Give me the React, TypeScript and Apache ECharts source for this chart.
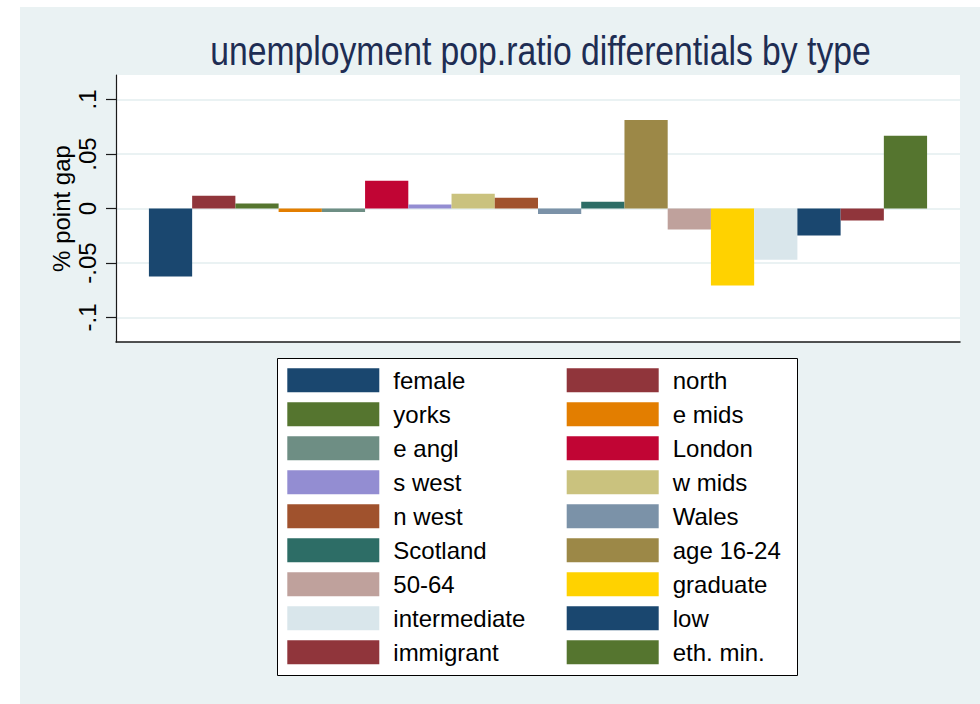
import React, { useEffect, useRef } from "react";
import * as echarts from "echarts";

const titleText = "unemployment pop.ratio differentials by type";
const yAxisName = "% point gap";

const seriesNames = [
  "female", "north", "yorks", "e mids", "e angl", "London",
  "s west", "w mids", "n west", "Wales", "Scotland", "age 16-24",
  "50-64", "graduate", "intermediate", "low", "immigrant", "eth. min.",
];

const seriesValues = [
  -0.0624, 0.0116, 0.0046, -0.0033, -0.0033, 0.0254,
  0.0037, 0.0135, 0.0098, -0.0051, 0.0061, 0.0813,
  -0.0193, -0.0706, -0.047, -0.0248, -0.011, 0.0667,
];

const seriesColors = [
  "#1A476F", "#90353B", "#55752F", "#E37E00", "#6E8E84", "#C10534",
  "#938DD2", "#CAC27E", "#A0522D", "#7B92A8", "#2D6D66", "#9C8847",
  "#BFA19C", "#FFD200", "#D9E6EB", "#1A476F", "#90353B", "#55752F",
];

const yTickValues = [-0.1, -0.05, 0, 0.05, 0.1];
const yTickLabels = ["-.1", "-.05", "0", ".05", ".1"];

const FONT = "'Liberation Sans', Arial, sans-serif";

export default function App() {
  const ref = useRef<HTMLDivElement>(null);

  useEffect(() => {
    if (!ref.current) return;
    const chart = echarts.init(ref.current, null, { renderer: "svg" });

    const series = seriesNames.map((name, i) => ({
      name,
      type: "bar",
      data: [seriesValues[i]],
      barGap: "0%",
      barCategoryGap: "7.8%",
      itemStyle: { color: seriesColors[i] },
      emphasis: { disabled: true },
    }));

    const leftNames = seriesNames.filter((_, i) => i % 2 === 0);
    const rightNames = seriesNames.filter((_, i) => i % 2 === 1);

    const legendBase = {
      orient: "vertical",
      top: 368.3,
      padding: 0,
      itemWidth: 92,
      itemHeight: 24,
      itemGap: 10,
      icon: "rect",
      selectedMode: false,
      textStyle: {
        fontSize: 24,
        fontFamily: FONT,
        color: "#000",
        lineHeight: 24,
        padding: [0, 0, 0, 9],
      },
    };

    chart.setOption({
      animation: false,
      backgroundColor: "#EAF2F3",
      grid: {
        left: 116,
        right: 20,
        top: 75,
        bottom: 362,
        show: true,
        backgroundColor: "#ffffff",
        borderWidth: 0,
      },
      xAxis: {
        type: "category",
        data: [""],
        axisLine: { show: true, onZero: false, lineStyle: { color: "#1a1a1a", width: 1.5 } },
        axisTick: { show: false },
        axisLabel: { show: false },
        splitLine: { show: false },
      },
      yAxis: {
        type: "value",
        min: -0.1225,
        max: 0.1225,
        name: yAxisName,
        nameLocation: "middle",
        nameGap: 43,
        nameMoveOverlap: false,
        nameTextStyle: { fontSize: 24, fontFamily: FONT, color: "#000" },
        axisLine: { show: true, lineStyle: { color: "#1a1a1a", width: 1.2 } },
        axisTick: {
          show: true,
          length: 10,
          customValues: yTickValues,
          lineStyle: { color: "#1a1a1a", width: 1.2 },
        },
        axisLabel: {
          show: true,
          rotate: 90,
          margin: 17,
          customValues: yTickValues,
          fontSize: 24,
          fontFamily: FONT,
          color: "#000",
          formatter: (v: number) => {
            const idx = yTickValues.findIndex((t) => Math.abs(t - v) < 1e-9);
            return idx >= 0 ? yTickLabels[idx] : "";
          },
        },
        splitLine: { show: true, lineStyle: { color: "#EAF2F3", width: 2 } },
      },
      legend: [
        { ...legendBase, left: 287.3, data: leftNames },
        { ...legendBase, left: 566.7, data: rightNames },
      ],
      graphic: [
        { type: "rect", shape: { x: 0, y: 0, width: 980, height: 7 }, style: { fill: "#ffffff" }, silent: true },
        { type: "rect", shape: { x: 0, y: 0, width: 20, height: 704 }, style: { fill: "#ffffff" }, silent: true },
        {
          type: "rect",
          shape: { x: 277.5, y: 358.5, width: 520, height: 317 },
          style: { fill: "#ffffff", stroke: "#000", lineWidth: 1 },
          z: 0,
          silent: true,
        },
        {
          type: "text",
          x: 540.5,
          y: 50.5,
          scaleX: 0.822,
          style: {
            text: titleText,
            fontSize: 41,
            fontFamily: FONT,
            fill: "#1E2D53",
            align: "center",
            verticalAlign: "middle",
          },
          silent: true,
        },
      ],
      series,
    });

    return () => chart.dispose();
  }, []);

  return (
    <div
      ref={ref}
      style={{ position: "absolute", left: 0, top: 0, width: 980, height: 704 }}
    />
  );
}
